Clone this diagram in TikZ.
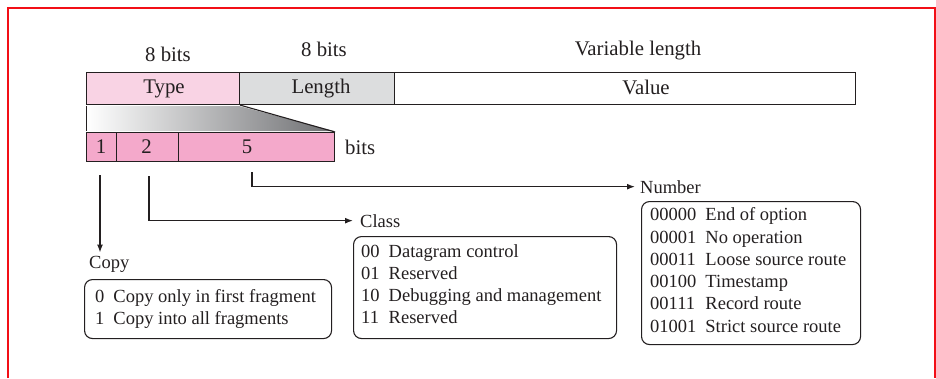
\documentclass[tikz,border=0pt]{standalone}
\usepackage{fontspec}
\setmainfont{Liberation Serif}
\usetikzlibrary{arrows.meta}
\definecolor{ink}{HTML}{231F20}
\definecolor{typepink}{HTML}{F9D3E4}
\definecolor{lengthgray}{HTML}{DCDDDE}
\definecolor{bitspink}{HTML}{F4A9CB}
\definecolor{shadegray}{HTML}{6D6E71}
\definecolor{framered}{HTML}{F20F17}

\begin{document}
\begin{tikzpicture}[x=1pt,y=-1pt,
  field/.style={draw=ink, line width=1.1pt, inner sep=0pt, anchor=north west},
  big/.style={font=\fontsize{20.8}{24}\selectfont, text=ink, inner sep=0pt},
  small/.style={font=\fontsize{18.5}{22.3}\selectfont, text=ink, inner sep=0pt},
  listbox/.style={draw=ink, line width=1.1pt, rounded corners=8pt, anchor=north west, inner sep=0pt},
  flow/.style={draw=ink, line width=1.4pt, -{Latex[length=8pt,width=6pt]}}
]
\useasboundingbox (0,0) rectangle (936,378);

% red frame
\draw[framered, line width=1.7pt] (8,378) -- (8,8) -- (935,8) -- (935,378);

% option header fields
\node[field, fill=typepink, minimum width=153pt, minimum height=32pt] (type) at (86,72) {};
\node[field, fill=lengthgray, minimum width=155pt, minimum height=32pt] (length) at (239,72) {};
\node[field, fill=white, minimum width=461pt, minimum height=32pt] (value) at (394,72) {};
\node[big, anchor=base] (typetext) at (164,93) {Type};
\node[big, anchor=base] (lengthtext) at (321,93) {Length};
\node[big, anchor=base] (valuetext) at (646,94) {Value};

% field sizes
\node[big, anchor=base] (typesize) at (168,61) {8 bits};
\node[big, anchor=base] (lengthsize) at (324,56) {8 bits};
\node[big, anchor=base] (valuesize) at (638,55) {Variable length};

% type subfields
\node[field, fill=bitspink, minimum width=30pt, minimum height=29pt] (b1) at (86,132) {};
\node[field, fill=bitspink, minimum width=62pt, minimum height=29pt] (b2) at (116,132) {};
\node[field, fill=bitspink, minimum width=156pt, minimum height=29pt] (b5) at (178,132) {};
\node[big, anchor=base] (b1text) at (101,153.5) {1};
\node[big, anchor=base] (b2text) at (146.5,153.5) {2};
\node[big, anchor=base] (b5text) at (247,153.5) {5};
\node[big, anchor=base west] (bitsword) at (345,154) {bits};

% expansion wedge from Type to its subfields
\shade[left color=white, right color=shadegray]
  (86,106) -- (239,106) -- (334,131) -- (86,131) -- cycle;
\draw[ink, line width=0.7pt] (86,106) -- (86,131);
\draw[ink, line width=1.1pt] (type.south east) -- (b5.north east);

% subfield labels
\node[small, anchor=base west] (copylabel) at (89,268) {Copy};
\node[small, anchor=base west] (classlabel) at (360,227) {Class};
\node[small, anchor=base west] (numberlabel) at (640,193) {Number};

% connectors
\coordinate (copystart) at (100,175);
\coordinate (classstart) at (149,176);
\coordinate (numberstart) at (252,172);
\draw[flow, shorten >=3pt] (copystart) -- (copystart |- copylabel.north);
\draw[flow] (classstart) |- ([xshift=-7pt]classlabel.west);
\draw[flow] (numberstart) |- ([xshift=-5pt]numberlabel.west);

% value lists
\node[listbox, minimum width=247pt, minimum height=59pt] (copybox) at (84,279) {};
\node[listbox, minimum width=263pt, minimum height=102pt] (classbox) at (353,236) {};
\node[listbox, minimum width=219pt, minimum height=143pt] (numberbox) at (641,201) {};

\node[small, anchor=west] (copytext) at ([xshift=11pt]copybox.west) {%
  \begin{tabular}{@{}l@{\hspace{9pt}}l@{}}
  0 & Copy only in first fragment\\
  1 & Copy into all fragments
  \end{tabular}};
\node[small, anchor=west] (classtext) at ([xshift=8pt,yshift=1.5pt]classbox.west) {%
  \begin{tabular}{@{}l@{\hspace{9pt}}l@{}}
  00 & Datagram control\\
  01 & Reserved\\
  10 & Debugging and management\\
  11 & Reserved
  \end{tabular}};
\node[small, anchor=west] (numbertext) at ([xshift=9pt,yshift=1pt]numberbox.west) {%
  \begin{tabular}{@{}l@{\hspace{9pt}}l@{}}
  00000 & End of option\\
  00001 & No operation\\
  00011 & Loose source route\\
  00100 & Timestamp\\
  00111 & Record route\\
  01001 & Strict source route
  \end{tabular}};
\end{tikzpicture}
\end{document}
